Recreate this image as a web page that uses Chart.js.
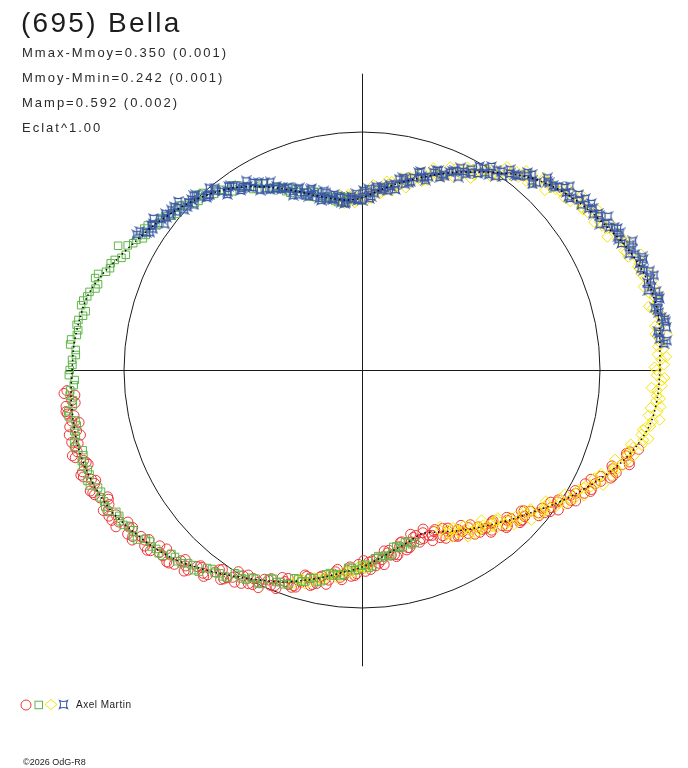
<!DOCTYPE html>
<html>
<head>
<meta charset="utf-8">
<script src="https://cdn.jsdelivr.net/npm/chart.js@4/dist/chart.umd.min.js"></script>
<style>
html,body{margin:0;padding:0;background:#fff;}
#wrap{position:relative;width:688px;height:768px;overflow:hidden;}
#c{position:absolute;left:0;top:0;}
.t{position:absolute;font-family:"Liberation Sans",Arial,sans-serif;color:#1c1c1c;white-space:nowrap;}
#title{left:21px;top:9px;font-size:28px;line-height:28px;letter-spacing:2.3px;}
.sub{left:22px;font-size:13px;line-height:13px;letter-spacing:2px;color:#2a2a2a;}
#legtxt{left:76px;top:700px;font-size:10px;line-height:10px;letter-spacing:0.5px;}
#copy{left:23px;top:758px;font-size:9px;line-height:9px;letter-spacing:0px;}
#legsym{position:absolute;left:18px;top:697px;}
</style>
</head>
<body>
<div id="wrap">
<canvas id="c" width="688" height="768"></canvas>
<div class="t" id="title">(695) Bella</div>
<div class="t sub" style="top:46px">Mmax-Mmoy=0.350 (0.001)</div>
<div class="t sub" style="top:71px">Mmoy-Mmin=0.242 (0.001)</div>
<div class="t sub" style="top:96px">Mamp=0.592 (0.002)</div>
<div class="t sub" style="top:121px">Eclat^1.00</div>
<svg id="legsym" width="56" height="16" viewBox="0 0 56 16">
  <circle cx="8" cy="8" r="5" fill="none" stroke="#ee3535" stroke-width="1"/>
  <rect x="17" y="4.2" width="7.5" height="7.5" fill="none" stroke="#5fb648" stroke-width="1"/>
  <polygon points="27,7.5 33,2.5 39,7.5 33,12.5" fill="none" stroke="#f7e400" stroke-width="1"/>
  <path d="M41.5,3.5 Q45.5,5.5 49.5,3.5 Q47.5,7.5 49.5,11.5 Q45.5,9.5 41.5,11.5 Q43.5,7.5 41.5,3.5 Z" fill="none" stroke="#3c59a8" stroke-width="1.1"/>
</svg>
<div class="t" id="legtxt">Axel Martin</div>
<div class="t" id="copy">©2026 OdG-R8</div>
</div>
<script>
// ---- Data (phase in degrees, radius in units of the reference circle) ----
const fitPhase = [0,5,10,15,20,25,30,35,40,45,50,55,60,65,70,75,80,85,90,95,100,105,110,115,120,125,130,135,140,145,150,155,160,165,170,175,180,185,190,195,200,205,210,215,220,225,230,235,240,245,250,255,260,265,270,275,280,285,290,295,300,305,310,315,320,325,330,335,340,345,350,355];
const fitRadius = [1.252,1.256,1.266,1.262,1.248,1.225,1.194,1.167,1.138,1.104,1.063,1.011,0.961,0.916,0.871,0.829,0.791,0.755,0.723,0.717,0.732,0.759,0.799,0.844,0.890,0.935,0.972,1.005,1.034,1.064,1.092,1.125,1.164,1.195,1.206,1.215,1.218,1.227,1.232,1.236,1.232,1.222,1.206,1.178,1.152,1.121,1.082,1.043,1.007,0.976,0.948,0.914,0.882,0.852,0.828,0.797,0.769,0.749,0.732,0.751,0.781,0.814,0.847,0.888,0.931,0.984,1.039,1.095,1.153,1.201,1.235,1.247];

const redPhase = [184,186,188,190,192,194,196,198,200,202,204,206,208,210,212,214,216,218,220,222,224,226,228,230,232,234,236,238,240,242,244,246,248,250,252,254,256,258,260,262,264,266,268,270,272,274,276,278,280,282,284,286,288,290,292,294,296,298,300,302,304,306,308,310,312,314,316,318,320,322,324,326,328,330,332,334,336,338,340,342,344,
  185,187,189,191,193,195,197,199,201,203,205,207,209,211,213,215,217,219,221,223,225,227,229,231,233,235,237,239,241,243,245,247,249,251,253,255,257,259,261,263,265,267,269,271,273,275,277,279,281,283,285,287,289,291,293,295,297,299,301,303,305,307,309,311,313,315,317,319,321,323,325,327,329,331,333,335,337,339,341,343,
  184.5,186.5,188.5,190.5,192.5,194.5,196.5,198.5,200.5,202.5,204.5,206.5,208.5,210.5,212.5,214.5,216.5,218.5,220.5,222.5,224.5,226.5,228.5,230.5,232.5,234.5,236.5,238.5,240.5,242.5,244.5,246.5,248.5,250.5,252.5,254.5,256.5,258.5,260.5,262.5,264.5,266.5,268.5,270.5,272.5,274.5,276.5,278.5,280.5,282.5,284.5,286.5,288.5,290.5,292.5,294.5,296.5,298.5,300.5,302.5,304.5,306.5,308.5,310.5,312.5,314.5,316.5,318.5,320.5,322.5,324.5,326.5,328.5,330.5,332.5,334.5,336.5,338.5,340.5,342.5];
const redRadius = [1.243,1.226,1.256,1.238,1.226,1.257,1.245,1.230,1.250,1.226,1.250,1.225,1.204,1.228,1.205,1.180,1.191,1.160,1.178,1.146,1.119,1.135,1.108,1.078,1.084,1.049,1.062,1.027,0.999,1.017,0.992,0.966,0.977,0.946,0.960,0.927,0.900,0.917,0.892,0.866,0.876,0.845,0.864,0.834,0.808,0.825,0.801,0.776,0.787,0.759,0.779,0.752,0.731,0.754,0.750,0.743,0.775,0.767,0.807,0.800,0.799,0.843,0.844,0.843,0.881,0.878,0.923,0.920,0.923,0.974,0.983,0.991,1.035,1.037,1.087,1.090,1.099,1.152,1.163,1.168,1.209,
  1.211,1.253,1.225,1.251,1.214,1.248,1.260,1.217,1.254,1.220,1.240,1.196,1.221,1.226,1.173,1.202,1.162,1.175,1.126,1.145,1.147,1.089,1.114,1.068,1.077,1.023,1.041,1.040,0.985,1.012,0.970,0.983,0.934,0.953,0.954,0.898,0.925,0.882,0.894,0.844,0.864,0.868,0.817,0.846,0.803,0.815,0.766,0.787,0.791,0.741,0.773,0.736,0.753,0.716,0.755,0.777,0.747,0.799,0.782,0.819,0.794,0.839,0.866,0.839,0.896,0.882,0.923,0.902,0.954,0.989,0.968,1.030,1.022,1.068,1.053,1.107,1.144,1.125,1.187,1.176,
  1.256,1.213,1.251,1.209,1.260,1.232,1.269,1.222,1.261,1.211,1.243,1.194,1.237,1.199,1.226,1.169,1.201,1.144,1.169,1.113,1.150,1.105,1.128,1.066,1.093,1.031,1.053,0.994,1.030,0.988,1.013,0.956,0.987,0.929,0.951,0.894,0.931,0.888,0.913,0.855,0.885,0.829,0.856,0.801,0.839,0.796,0.823,0.766,0.797,0.743,0.771,0.720,0.763,0.730,0.776,0.737,0.790,0.756,0.805,0.774,0.837,0.820,0.871,0.839,0.898,0.868,0.921,0.894,0.963,0.954,1.013,0.989,1.053,1.029,1.087,1.066,1.139,1.132,1.192,1.165];

const greenPhase = [95,97,99,101,103,105,107,109,111,113,115,117,119,121,123,125,127,129,131,133,135,137,139,141,143,145,147,149,151,153,155,157,159,161,163,165,167,169,171,173,175,177,179,181,183,185,187,189,191,193,195,197,199,201,203,205,207,209,211,213,215,217,219,221,223,225,227,229,231,233,235,237,239,241,243,245,247,249,251,253,255,257,259,261,263,265,267,269,271,273,275,277,279,281,283,285,287,
  96,98,100,102,104,106,108,110,112,114,116,118,120,122,124,126,128,130,132,134,136,138,140,142,144,146,148,150,152,154,156,158,160,162,164,166,168,170,172,174,176,178,180,182,184,186,188,190,192,194,196,198,200,202,204,206,208,210,212,214,216,218,220,222,224,226,228,230,232,234,236,238,240,242,244,246,248,250,252,254,256,258,260,262,264,266,268,270,272,274,276,278,280,282,284,286];
const greenRadius = [0.717,0.735,0.719,0.743,0.744,0.775,0.763,0.791,0.820,0.816,0.850,0.858,0.897,0.887,0.917,0.947,0.940,0.971,0.975,1.008,0.993,1.017,1.040,1.030,1.058,1.060,1.091,1.074,1.099,1.150,1.115,1.147,1.152,1.186,1.171,1.195,1.211,1.194,1.214,1.207,1.231,1.204,1.217,1.232,1.213,1.233,1.225,1.247,1.221,1.234,1.248,1.224,1.239,1.226,1.242,1.210,1.216,1.221,1.190,1.195,1.174,1.184,1.145,1.146,1.145,1.111,1.111,1.086,1.090,1.047,1.043,1.041,1.004,1.007,0.984,0.992,0.953,0.954,0.953,0.918,0.920,0.897,0.904,0.864,0.864,0.864,0.832,0.839,0.818,0.825,0.785,0.786,0.787,0.755,0.763,0.745,0.758,
  0.730,0.712,0.736,0.737,0.770,0.757,0.785,0.809,0.803,0.839,0.847,0.888,0.880,0.910,0.936,0.928,0.961,0.966,1.001,0.988,1.013,1.032,1.020,1.050,1.052,1.086,1.071,1.094,1.115,1.104,1.137,1.142,1.180,1.166,1.191,1.207,1.187,1.210,1.204,1.229,1.206,1.219,1.228,1.208,1.229,1.222,1.246,1.222,1.236,1.245,1.221,1.238,1.226,1.244,1.214,1.221,1.222,1.192,1.199,1.178,1.189,1.152,1.154,1.150,1.113,1.117,1.092,1.098,1.056,1.053,1.046,1.007,1.011,0.989,0.998,0.960,0.961,0.958,0.920,0.925,0.902,0.911,0.872,0.872,0.868,0.833,0.842,0.822,0.832,0.793,0.793,0.790,0.755,0.765,0.747,0.762];

const yellowPhase = [296,298,300,302,304,306,308,310,312,314,316,318,320,322,324,326,328,330,332,334,336,338,340,342,344,346,348,350,352,354,356,358,0,2,4,6,8,10,12,14,16,18,20,22,24,26,28,30,32,34,36,38,40,42,44,46,48,50,52,54,56,58,60,62,64,66,68,70,72,74,76,78,80,82,84,86,88,90,92,94,96,98,252,254,256,258,260,262,264,266,268,270,272,
  297,299,301,303,305,307,309,311,313,315,317,319,321,323,325,327,329,331,333,335,337,339,341,343,345,347,349,351,353,355,357,359,1,3,5,7,9,11,13,15,17,19,21,23,25,27,29,31,33,35,37,39,41,43,45,47,49,51,53,55,57,59,61,63,65,67,69,71,73,75,77,79,81,83,85,87,89,91,93,95,97,253,255,257,259,261,263,265,267,269,271,
  296.5,298.5,300.5,302.5,304.5,306.5,308.5,310.5,312.5,314.5,316.5,318.5,320.5,322.5,324.5,326.5,328.5,330.5,332.5,334.5,336.5,338.5,340.5,342.5,344.5,346.5,348.5,350.5,352.5,354.5,356.5,358.5,0.5,2.5,4.5,6.5,8.5,10.5,12.5,14.5,16.5,18.5,20.5,22.5,24.5,26.5,28.5,30.5,32.5,34.5,36.5,38.5,40.5,42.5,44.5,46.5,48.5,50.5,52.5,54.5,56.5,58.5,60.5,62.5,64.5,66.5,68.5,70.5,72.5,74.5,76.5,78.5,80.5,82.5,84.5,86.5,88.5,90.5,92.5,94.5,96.5];
const yellowRadius = [0.751,0.779,0.767,0.798,0.821,0.819,0.828,0.857,0.849,0.884,0.911,0.912,0.925,0.962,0.959,0.999,1.031,1.037,1.055,1.094,1.093,1.134,1.167,1.170,1.185,1.218,1.207,1.239,1.254,1.243,1.242,1.260,1.238,1.258,1.269,1.256,1.256,1.276,1.250,1.267,1.273,1.252,1.242,1.249,1.216,1.223,1.220,1.192,1.177,1.182,1.147,1.154,1.152,1.122,1.105,1.106,1.065,1.067,1.056,1.019,0.995,0.991,0.947,0.947,0.939,0.905,0.883,0.881,0.840,0.841,0.835,0.804,0.785,0.787,0.748,0.753,0.750,0.721,0.715,0.728,0.706,0.730,0.944,0.915,0.920,0.895,0.890,0.866,0.870,0.849,0.848,0.826,0.824,
  0.779,0.765,0.794,0.783,0.836,0.823,0.852,0.843,0.888,0.878,0.911,0.904,0.964,0.959,0.996,0.994,1.044,1.040,1.079,1.077,1.140,1.137,1.175,1.170,1.217,1.205,1.234,1.219,1.264,1.243,1.261,1.239,1.269,1.244,1.262,1.242,1.286,1.261,1.276,1.250,1.272,1.241,1.249,1.216,1.247,1.209,1.212,1.177,1.194,1.157,1.161,1.126,1.153,1.114,1.116,1.076,1.087,1.043,1.038,0.993,1.013,0.967,0.964,0.922,0.932,0.888,0.886,0.845,0.868,0.825,0.826,0.787,0.800,0.759,0.761,0.724,0.751,0.718,0.731,0.705,0.739,0.920,0.928,0.897,0.898,0.870,0.878,0.850,0.850,0.827,0.832,
  0.736,0.798,0.777,0.830,0.793,0.836,0.807,0.871,0.844,0.910,0.893,0.950,0.919,0.970,0.949,1.021,0.999,1.071,1.059,1.122,1.095,1.148,1.128,1.197,1.172,1.238,1.217,1.268,1.223,1.258,1.219,1.271,1.229,1.280,1.248,1.291,1.245,1.278,1.234,1.283,1.234,1.279,1.238,1.269,1.210,1.228,1.173,1.212,1.157,1.196,1.150,1.179,1.117,1.133,1.078,1.112,1.051,1.084,1.029,1.048,0.978,0.988,0.927,0.959,0.897,0.929,0.877,0.899,0.832,0.845,0.788,0.823,0.764,0.799,0.751,0.778,0.715,0.735,0.705,0.738,0.708];

const bluePhase = [5,7,9,11,13,15,17,19,21,23,25,27,29,31,33,35,37,39,41,43,45,47,49,51,53,55,57,59,61,63,65,67,69,71,73,75,77,79,81,83,85,87,89,91,93,95,97,99,101,103,105,107,109,111,113,115,117,119,121,123,125,127,129,131,133,135,137,139,141,143,145,147,149,
  6,8,10,12,14,16,18,20,22,24,26,28,30,32,34,36,38,40,42,44,46,48,50,52,54,56,58,60,62,64,66,68,70,72,74,76,78,80,82,84,86,88,90,92,94,96,98,100,102,104,106,108,110,112,114,116,118,120,122,124,126,128,130,132,134,136,138,140,142,144,146,148,
  5.5,7.5,9.5,11.5,13.5,15.5,17.5,19.5,21.5,23.5,25.5,27.5,29.5,31.5,33.5,35.5,37.5,39.5,41.5,43.5,45.5,47.5,49.5,51.5,53.5,55.5,57.5,59.5,61.5,63.5,65.5,67.5,69.5,71.5,73.5,75.5,77.5,79.5,81.5,83.5,85.5,87.5,89.5,91.5,93.5,95.5,97.5,99.5,101.5,103.5,105.5,107.5,109.5,111.5,113.5,115.5,117.5,119.5,121.5,123.5,125.5,127.5,129.5,131.5,133.5,135.5,137.5,139.5,141.5,143.5,145.5,147.5];
const blueRadius = [1.274,1.258,1.292,1.271,1.276,1.280,1.254,1.279,1.249,1.246,1.243,1.211,1.228,1.195,1.190,1.185,1.153,1.172,1.137,1.130,1.112,1.076,1.089,1.049,1.034,1.019,0.979,0.989,0.948,0.936,0.924,0.886,0.898,0.859,0.848,0.837,0.802,0.817,0.780,0.771,0.763,0.730,0.747,0.718,0.721,0.725,0.711,0.747,0.733,0.750,0.767,0.763,0.809,0.804,0.828,0.852,0.850,0.899,0.895,0.919,0.943,0.938,0.983,0.975,0.994,1.013,1.005,1.046,1.036,1.054,1.072,1.063,1.104,
  1.258,1.292,1.278,1.258,1.285,1.265,1.290,1.248,1.269,1.242,1.213,1.228,1.200,1.219,1.172,1.191,1.162,1.132,1.146,1.117,1.122,1.069,1.083,1.044,1.005,1.013,0.977,0.987,0.933,0.945,0.909,0.873,0.883,0.850,0.863,0.811,0.826,0.793,0.761,0.774,0.745,0.762,0.713,0.741,0.720,0.704,0.738,0.728,0.769,0.744,0.787,0.785,0.783,0.829,0.831,0.879,0.862,0.910,0.910,0.910,0.954,0.953,0.998,0.975,1.018,1.013,1.006,1.046,1.042,1.084,1.060,1.101,
  1.287,1.253,1.290,1.267,1.286,1.247,1.271,1.256,1.271,1.224,1.260,1.212,1.219,1.172,1.191,1.170,1.183,1.133,1.166,1.117,1.112,1.060,1.073,1.044,1.047,0.988,1.014,0.958,0.960,0.906,0.918,0.890,0.896,0.841,0.870,0.817,0.822,0.771,0.787,0.762,0.772,0.721,0.754,0.714,0.731,0.705,0.731,0.727,0.760,0.733,0.791,0.771,0.807,0.789,0.837,0.845,0.887,0.868,0.932,0.914,0.951,0.930,0.975,0.978,1.015,0.990,1.048,1.023,1.055,1.031,1.073,1.074];

const refCircle = 1.0;   // reference circle radius (mean magnitude)
const axisHalf = 1.245;  // half-length of the cross axes

// ---- Build tables for Chart.js ----
const DEG = Math.PI / 180;
function toXY(ph, rr) {
  return ph.map((p, i) => ({ x: rr[i] * Math.cos(p * DEG), y: rr[i] * Math.sin(p * DEG) }));
}
const fitPts = toXY(fitPhase, fitRadius);
fitPts.push(fitPts[0]);

function starImage(color) {
  const cv = document.createElement('canvas');
  cv.width = 11; cv.height = 11;
  const g = cv.getContext('2d');
  g.strokeStyle = color; g.lineWidth = 1.2;
  g.beginPath();
  g.moveTo(1.5, 1.5);
  g.quadraticCurveTo(5.5, 3.8, 9.5, 1.5);
  g.quadraticCurveTo(7.2, 5.5, 9.5, 9.5);
  g.quadraticCurveTo(5.5, 7.2, 1.5, 9.5);
  g.quadraticCurveTo(3.8, 5.5, 1.5, 1.5);
  g.closePath();
  g.stroke();
  return cv;
}

const RED = '#ee3535', GREEN = '#5fb648', YELLOW = '#f7e400', BLUE = '#3a57a6';

const refPlugin = {
  id: 'refLines',
  beforeDatasetsDraw(chart) {
    const { ctx, scales: { x, y } } = chart;
    const cx = x.getPixelForValue(0), cy = y.getPixelForValue(0);
    const rad = x.getPixelForValue(refCircle) - cx;
    const px = Math.round(cx) + 0.5, py = Math.round(cy) + 0.5;
    ctx.save();
    ctx.strokeStyle = '#1a1a1a';
    ctx.lineWidth = 1;
    ctx.beginPath();
    ctx.arc(cx, cy, rad, 0, 2 * Math.PI);
    ctx.stroke();
    ctx.beginPath();
    ctx.moveTo(x.getPixelForValue(-axisHalf), py);
    ctx.lineTo(x.getPixelForValue(axisHalf), py);
    ctx.moveTo(px, y.getPixelForValue(axisHalf));
    ctx.lineTo(px, y.getPixelForValue(-axisHalf));
    ctx.stroke();
    ctx.restore();
  }
};

new Chart(document.getElementById('c'), {
  type: 'scatter',
  data: {
    datasets: [
      { label: 'fit', type: 'line', data: fitPts, showLine: true, pointRadius: 0,
        borderColor: '#000', borderWidth: 1.5, borderDash: [1.5, 3], tension: 0.3, fill: false, clip: false },
      { label: 'blue', data: toXY(bluePhase, blueRadius), pointStyle: starImage(BLUE),
        borderColor: BLUE, backgroundColor: 'transparent', clip: false },
      { label: 'green', data: toXY(greenPhase, greenRadius), pointStyle: 'rect', pointRadius: 5.3,
        borderColor: GREEN, backgroundColor: 'transparent', borderWidth: 1, clip: false },
      { label: 'yellow', data: toXY(yellowPhase, yellowRadius), pointStyle: 'rectRot', pointRadius: 5.5,
        borderColor: YELLOW, backgroundColor: 'transparent', borderWidth: 1, clip: false },
      { label: 'red', data: toXY(redPhase, redRadius), pointStyle: 'circle', pointRadius: 5,
        borderColor: RED, backgroundColor: 'transparent', borderWidth: 1, clip: false }
    ]
  },
  options: {
    responsive: false,
    animation: false,
    layout: { padding: { left: 52.6, right: 16.6, top: 60.6, bottom: 88.6 } },
    scales: {
      x: { type: 'linear', min: -1.3, max: 1.3, display: false },
      y: { type: 'linear', min: -1.3, max: 1.3, display: false }
    },
    plugins: { legend: { display: false }, tooltip: { enabled: false } }
  },
  plugins: [refPlugin]
});
</script>
</body>
</html>
